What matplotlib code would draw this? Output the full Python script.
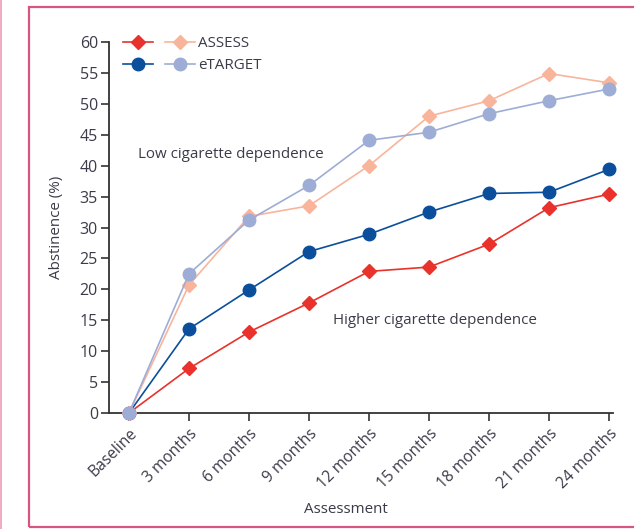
import matplotlib
matplotlib.use("Agg")
import matplotlib.pyplot as plt
from matplotlib.lines import Line2D
from matplotlib.legend_handler import HandlerTuple
from matplotlib.patches import Rectangle

# Assessment points and abstinence rates (%)
timepoints = ["Baseline", "3 months", "6 months", "9 months", "12 months",
              "15 months", "18 months", "21 months", "24 months"]
assess_high = [0, 7.2, 13.1, 17.8, 22.9, 23.6, 27.3, 33.2, 35.4]
etarget_high = [0, 13.6, 19.9, 26.1, 28.9, 32.5, 35.5, 35.7, 39.4]
assess_low = [0, 20.7, 31.8, 33.5, 40.0, 48.0, 50.5, 54.9, 53.4]
etarget_low = [0, 22.5, 31.2, 36.8, 44.1, 45.4, 48.4, 50.5, 52.4]
y_ticks = list(range(0, 61, 5))

RED = "#e8322b"
SALMON = "#f8b59c"
NAVY = "#0b4f9c"
LILAC = "#9dadd6"
TEXT = "#3b3b4a"
AXIS = "#333333"

plt.rcParams["font.family"] = ["Open Sans", "DejaVu Sans"]
FS = 10.9
TICK_FS = 11.5

W, H = 634, 529
fig = plt.figure(figsize=(W / 100, H / 100), dpi=100)

# decorative page frame
fig.add_artist(Rectangle((28.5 / W, 1 - 527 / H), 620 / W, 520 / H,
                         transform=fig.transFigure, fill=False,
                         edgecolor="#d6567f", linewidth=1.6))
fig.add_artist(Line2D([0.8 / W, 0.8 / W], [0, 1], transform=fig.transFigure,
                      color="#ef9cb8", linewidth=1.2))

ax = fig.add_axes([109 / W, 1 - 413 / H, (613 - 109) / W, (413 - 42) / H])
x = list(range(len(timepoints)))

mk = dict(markersize=9, linewidth=1.2, clip_on=False)
l_ah, = ax.plot(x, assess_high, color=RED, marker="D", markersize=7.5,
                linewidth=1.2, clip_on=False, zorder=3)
l_eh, = ax.plot(x, etarget_high, color=NAVY, marker="o", zorder=4, **mk)
l_al, = ax.plot(x, assess_low, color=SALMON, marker="D", markersize=7.5,
                linewidth=1.2, clip_on=False, zorder=5)
l_el, = ax.plot(x, etarget_low, color=LILAC, marker="o", zorder=6, **mk)

ax.set_xlim(-20 / 60, 8 + 4 / 60)
ax.set_ylim(0, 60)
ax.set_yticks(y_ticks)
ax.set_xticks(x)
ax.set_xticklabels(timepoints, rotation=45, ha="right", rotation_mode="anchor")

for s in ("top", "right"):
    ax.spines[s].set_visible(False)
for s in ("left", "bottom"):
    ax.spines[s].set_color(AXIS)
    ax.spines[s].set_linewidth(1.3)
ax.tick_params(axis="both", direction="out", length=6, width=1.2,
               color=AXIS, labelcolor=TEXT)
ax.tick_params(axis="y", pad=2, labelsize=TICK_FS)
ax.tick_params(axis="x", pad=3, labelsize=11.2)

ax.set_ylabel("Abstinence (%)", color=TEXT, fontsize=FS)
ax.yaxis.set_label_coords(-0.089, 0.5)
ax.set_xlabel("Assessment", color=TEXT, fontsize=FS)
ax.xaxis.set_label_coords((346 - 109) / 504, -(502 - 413) / 371)

ax.text((138 - 129) / 60, (413 - 155) / 6.18, "Low cigarette dependence",
        color=TEXT, fontsize=FS, va="center")
ax.text((333 - 129) / 60, (413 - 321) / 6.18, "Higher cigarette dependence",
        color=TEXT, fontsize=FS, va="center")

ax.legend([(l_ah, l_al), (l_eh, l_el)], ["ASSESS", "eTARGET"],
          handler_map={tuple: HandlerTuple(ndivide=None, pad=0.85)},
          loc="upper left", bbox_to_anchor=(0.0, 1.052), frameon=False,
          handlelength=4.8, handletextpad=0.2, labelspacing=0.45,
          fontsize=FS, labelcolor=TEXT)

fig.savefig("out.png", dpi=100)
